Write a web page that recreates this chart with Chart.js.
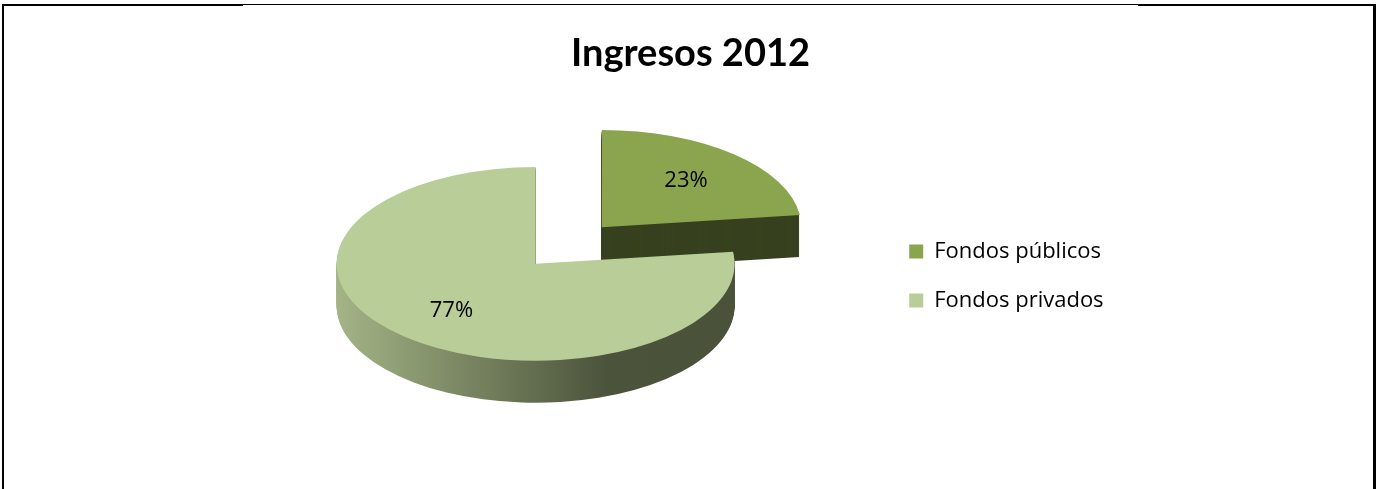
<!DOCTYPE html>
<html lang="es">
<head>
<meta charset="UTF-8">
<title>Ingresos 2012</title>
<style>
    body { margin: 0; background: #fff; }
    .wrap { position: relative; width: 1381px; height: 489px; }
    canvas { display: block; }
    .line { position: absolute; background: #000; }
</style>
<script src="https://cdn.jsdelivr.net/npm/chart.js"></script>
</head>
<body>
<div class="wrap">
    <canvas id="ingresos" width="1381" height="489"></canvas>
    <!-- marco -->
    <div class="line" style="left:2px;top:4px;width:2px;height:485px"></div>
    <div class="line" style="left:2px;top:4px;width:241px;height:2px"></div>
    <div class="line" style="left:243px;top:4px;width:895px;height:1px"></div>
    <div class="line" style="left:1138px;top:4px;width:238px;height:2px"></div>
    <div class="line" style="left:1373px;top:4px;width:3px;height:485px"></div>
</div>

<script>
    const labels = ['Fondos públicos', 'Fondos privados'];
    const values = [23, 77];
    const topColors = ['#8aa54e', '#b8cd97'];

    const SQUASH = 0.487;   // vertical flattening of the pie
    const DEPTH = 42;       // thickness of the 3D side

    function squashAround(ctx, cy) {
        ctx.translate(0, cy);
        ctx.scale(1, SQUASH);
        ctx.translate(0, -cy);
    }

    function wedgePath(ctx, arc) {
        const mid = (arc.startAngle + arc.endAngle) / 2;
        const off = (arc.options.offset || 0) / 4;
        const x = arc.x + Math.cos(mid) * off;
        const y = arc.y + Math.sin(mid) * off;
        ctx.beginPath();
        ctx.moveTo(x, y);
        ctx.arc(x, y, arc.outerRadius, arc.startAngle, arc.endAngle);
        ctx.closePath();
    }

    const pie3d = {
        id: 'pie3d',
        beforeDatasetsDraw(chart) {
            const ctx = chart.ctx;
            const arcs = chart.getDatasetMeta(0).data;
            const cx = arcs[0].x, cy = arcs[0].y, r = arcs[0].outerRadius;

            const grad = ctx.createLinearGradient(cx - r, 0, cx + r, 0);
            grad.addColorStop(0, '#a4b486');
            grad.addColorStop(0.68, '#4b533b');
            grad.addColorStop(1, '#4a5239');
            const sides = ['#37411f', grad];

            for (let d = DEPTH; d >= 1; d--) {
                arcs.forEach((arc, i) => {
                    ctx.save();
                    ctx.translate(0, d);
                    squashAround(ctx, cy);
                    ctx.fillStyle = sides[i];
                    wedgePath(ctx, arc);
                    ctx.fill();
                    ctx.restore();
                });
            }
            ctx.save();
            squashAround(ctx, cy);
        },
        afterDatasetsDraw(chart) {
            const ctx = chart.ctx;
            ctx.restore();

            const data = chart.data.datasets[0].data;
            const total = data.reduce((a, b) => a + b, 0);
            const arcs = chart.getDatasetMeta(0).data;
            ctx.save();
            ctx.fillStyle = '#000';
            ctx.font = '22px "Open Sans", sans-serif';
            ctx.textAlign = 'center';
            ctx.textBaseline = 'middle';
            arcs.forEach((arc, i) => {
                const mid = (arc.startAngle + arc.endAngle) / 2;
                const off = (arc.options.offset || 0) / 4;
                const dist = off + arc.outerRadius * 0.64;
                const x = arc.x + Math.cos(mid) * dist;
                const y = arc.y + Math.sin(mid) * dist * SQUASH;
                ctx.fillText(Math.round(data[i] / total * 100) + '%', x, y);
            });
            ctx.restore();
        }
    };

    new Chart(document.getElementById('ingresos'), {
        type: 'pie',
        data: {
            labels: labels,
            datasets: [{
                data: values,
                backgroundColor: topColors,
                borderWidth: 0,
                offset: [400, 0]
            }]
        },
        options: {
            responsive: false,
            animation: false,
            radius: 199,
            cutout: '0%',
            layout: { padding: { left: 189, right: 189, top: 0, bottom: 63 } },
            plugins: {
                title: {
                    display: true,
                    text: 'Ingresos 2012',
                    color: '#000',
                    font: { family: 'Lato, sans-serif', size: 38, weight: 'bold' },
                    padding: { top: 31, bottom: 25 }
                },
                // empty spacer on the right, keeps the title centred on the page
                subtitle: {
                    display: true,
                    position: 'right',
                    text: ' ',
                    padding: { top: 32, bottom: 32 }
                },
                legend: {
                    position: 'right',
                    fullSize: false,
                    title: { display: true, text: '', padding: 5 },
                    labels: {
                        color: '#000',
                        boxWidth: 14,
                        boxHeight: 14,
                        padding: 27,
                        font: { family: '"Open Sans", sans-serif', size: 22 }
                    }
                },
                tooltip: { enabled: false }
            }
        },
        plugins: [pie3d]
    });
</script>
</body>
</html>
